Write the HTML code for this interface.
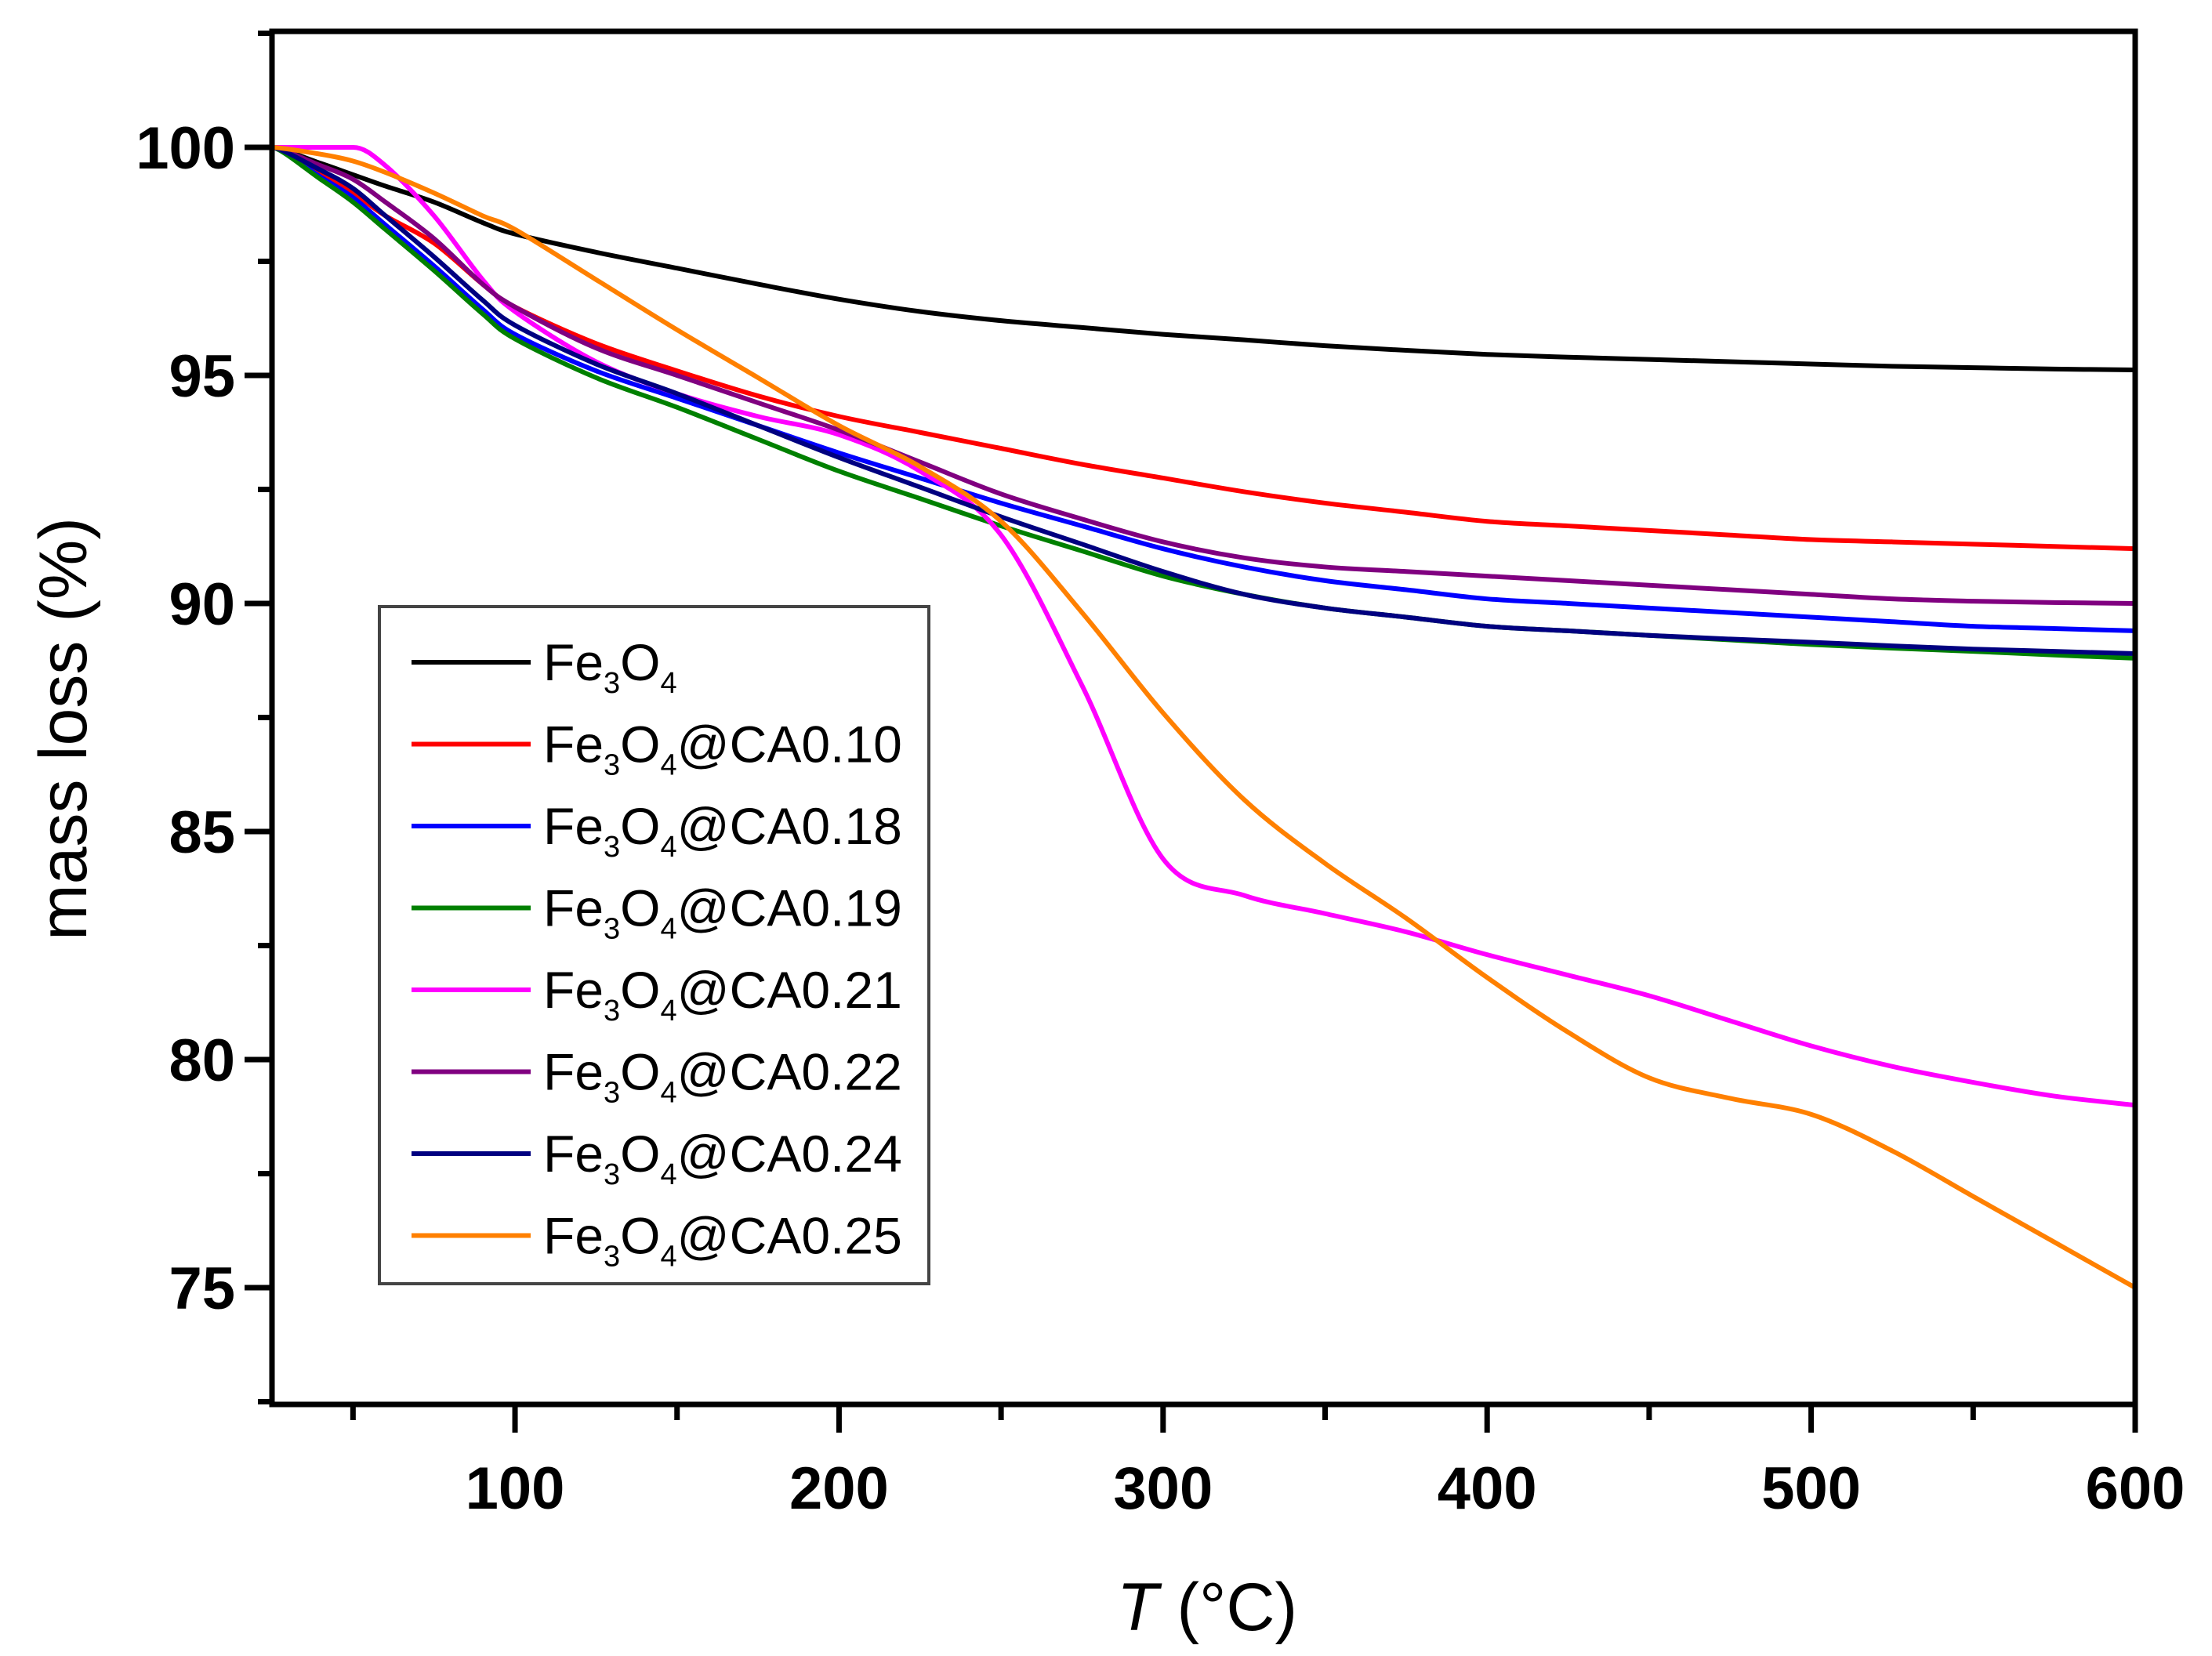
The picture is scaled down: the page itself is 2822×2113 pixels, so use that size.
<!DOCTYPE html>
<html><head><meta charset="utf-8"><style>
html,body{margin:0;padding:0;background:#fff;}
svg{display:block;}
text{font-family:"Liberation Sans",Arial,sans-serif;}
</style></head><body>
<svg id="chart" width="2822" height="2113" viewBox="0 0 2822 2113" xmlns="http://www.w3.org/2000/svg">
<g id="series"></g>
<g id="axes"></g>
<g id="legend"></g>
</svg>
<script>
const temps = [25,40,50,60,75,90,100,125,150,175,200,225,250,275,300,325,350,375,400,425,450,475,500,525,550,575,600];
const seriesNames = ["Fe3O4","Fe3O4@CA0.10","Fe3O4@CA0.18","Fe3O4@CA0.19","Fe3O4@CA0.21","Fe3O4@CA0.22","Fe3O4@CA0.24","Fe3O4@CA0.25"];
const seriesLabels = ["0.10","0.18","0.19","0.21","0.22","0.24","0.25"];
const seriesColors = ["#000000","#ff0000","#0000ff","#008000","#ff00ff","#800080","#000080","#ff8000"];
const massFe3O4 = [100,99.65,99.4,99.15,98.8,98.35,98.1,97.7,97.35,97.0,96.67,96.4,96.2,96.05,95.9,95.78,95.65,95.55,95.46,95.4,95.35,95.3,95.25,95.2,95.17,95.14,95.12];
const massCA010 = [100,99.4,99.0,98.5,97.9,97.0,96.5,95.7,95.1,94.55,94.1,93.75,93.4,93.05,92.75,92.45,92.2,92.0,91.8,91.7,91.6,91.5,91.4,91.35,91.3,91.25,91.2];
const massCA018 = [100,99.35,98.9,98.3,97.4,96.45,95.9,95.1,94.5,93.9,93.3,92.75,92.2,91.7,91.2,90.8,90.5,90.3,90.1,90.0,89.9,89.8,89.7,89.6,89.5,89.45,89.4];
const massCA019 = [100,99.3,98.8,98.2,97.3,96.35,95.8,94.95,94.3,93.6,92.9,92.3,91.7,91.15,90.6,90.2,89.9,89.7,89.5,89.4,89.3,89.2,89.1,89.02,88.95,88.87,88.8];
const massCA021 = [100,100,100,99.6,98.5,97.1,96.4,95.3,94.6,94.1,93.7,92.9,91.5,88.2,84.4,83.6,83.2,82.8,82.3,81.85,81.4,80.85,80.3,79.85,79.5,79.2,79.0];
const massCA022 = [100,99.6,99.3,98.8,98.0,97.0,96.5,95.6,95.0,94.4,93.8,93.1,92.4,91.85,91.35,91.0,90.8,90.7,90.6,90.5,90.4,90.3,90.2,90.1,90.05,90.02,90.0];
const massCA024 = [100,99.5,99.1,98.5,97.6,96.65,96.1,95.25,94.6,93.9,93.2,92.55,91.9,91.3,90.7,90.2,89.9,89.7,89.5,89.4,89.3,89.22,89.15,89.07,89.0,88.95,88.9];
const massCA025 = [100,99.85,99.7,99.45,99.0,98.5,98.2,97.1,96.0,94.95,93.9,93.0,91.8,89.8,87.6,85.7,84.3,83.1,81.8,80.6,79.6,79.15,78.8,78.0,77.0,76.0,75.0];
const xTicks = [100,200,300,400,500,600];
const xMinor = [50,150,250,350,450,550];
const yTicks = [75,80,85,90,95,100];
const yMinor = [72.5,77.5,82.5,87.5,92.5,97.5,102.5];

const allSeries = [massFe3O4,massCA010,massCA018,massCA019,massCA021,massCA022,massCA024,massCA025];
const L=347,R=2724,T=40,B=1792;
const xMin=25,xMax=600;
const X=v=>L+(v-xMin)/(xMax-xMin)*(R-L);
const Y=v=>188+(100-v)*58.2;
const NS="http://www.w3.org/2000/svg";
function mk(tag,attrs,parent){const e=document.createElementNS(NS,tag);for(const k in attrs)e.setAttribute(k,attrs[k]);parent.appendChild(e);return e;}
function smoothPath(xs,ys){
  const p=xs.map((x,i)=>[X(x),Y(ys[i])]);
  let d="M"+p[0][0]+","+p[0][1];
  for(let i=0;i<p.length-1;i++){
    const p0=p[i-1]||p[i],p1=p[i],p2=p[i+1],p3=p[i+2]||p2;
    let c1=[p1[0]+(p2[0]-p0[0])/6,p1[1]+(p2[1]-p0[1])/6];
    let c2=[p2[0]-(p3[0]-p1[0])/6,p2[1]-(p3[1]-p1[1])/6];
    if(p1[1]===p2[1]){c1[1]=p1[1];c2[1]=p2[1];}
    if(p0[1]===p1[1]) c1[1]=p1[1];
    d+=" C"+c1[0]+","+c1[1]+" "+c2[0]+","+c2[1]+" "+p2[0]+","+p2[1];
  }
  return d;
}
const sg=document.getElementById("series");
allSeries.forEach((s,i)=>{
  const el=mk("path",{d:smoothPath(temps,s),fill:"none",stroke:seriesColors[i],"stroke-width":6,"stroke-linejoin":"round"},sg);
  
  
});
const ax=document.getElementById("axes");
const frame=mk("rect",{x:L,y:T,width:R-L,height:B-T,fill:"none",stroke:"#000","stroke-width":7},ax);


xTicks.forEach(v=>{
  const t=mk("line",{x1:X(v),x2:X(v),y1:B,y2:B+36,stroke:"#000","stroke-width":7},ax);
  
  
  const lb=mk("text",{x:X(v),y:1925,"text-anchor":"middle","font-size":76,"font-weight":"bold"},ax);
  lb.textContent=v;
  
  
});
xMinor.forEach(v=>{
  const t=mk("line",{x1:X(v),x2:X(v),y1:B,y2:B+20,stroke:"#000","stroke-width":7},ax);
  
  
});
yTicks.forEach(v=>{
  const t=mk("line",{x1:L-35,x2:L,y1:Y(v),y2:Y(v),stroke:"#000","stroke-width":7},ax);
  
  
  const lb=mk("text",{x:300,y:Y(v)+27,"text-anchor":"end","font-size":76,"font-weight":"bold"},ax);
  lb.textContent=v;
  
  
});
yMinor.forEach(v=>{
  const t=mk("line",{x1:L-18,x2:L,y1:Y(v),y2:Y(v),stroke:"#000","stroke-width":7},ax);
  
  
});
const yt=mk("text",{x:0,y:0,transform:"translate(110,930) rotate(-90)","text-anchor":"middle","font-size":86},ax);
yt.textContent="mass loss (%)";


const xt=mk("text",{x:1540,y:2080,"text-anchor":"middle","font-size":86},ax);
xt.innerHTML='<tspan font-style="italic">T</tspan> (°C)';



const lg=document.getElementById("legend");
const box=mk("rect",{x:484,y:774,width:701,height:864,fill:"#fff",stroke:"#444","stroke-width":4},lg);


seriesNames.forEach((n,i)=>{
  const yy=845+i*104.5;
  const ln=mk("line",{x1:525,x2:677,y1:yy,y2:yy,stroke:seriesColors[i],"stroke-width":6},lg);
  
  
  const tx=mk("text",{x:693,y:yy+23,"font-size":66},lg);
  tx.innerHTML='Fe<tspan font-size="38" dy="16">3</tspan><tspan dy="-16">O</tspan><tspan font-size="38" dy="16">4</tspan>'+(i>0?'<tspan dy="-16">@CA'+seriesLabels[i-1]+'</tspan>':'');
  
  
});
</script>
</body></html>
